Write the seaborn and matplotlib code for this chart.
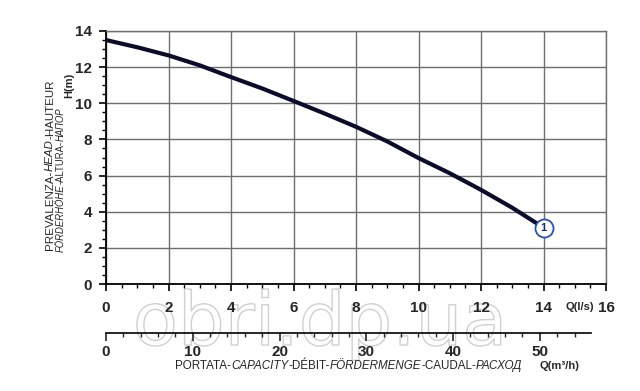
import numpy as np
import pandas as pd
import matplotlib
matplotlib.use("Agg")
import matplotlib.pyplot as plt
import matplotlib.patheffects as pe
from matplotlib.ticker import MultipleLocator
import seaborn as sns

# curve values
flow_ls = [0, 1, 2, 3, 4, 5, 6, 7, 8, 9, 10, 11, 12, 13, 14]
head_m = [13.5, 13.1, 12.65, 12.1, 11.45, 10.82, 10.13, 9.43, 8.7, 7.89, 6.97, 6.13, 5.21, 4.22, 3.12]
x_ticks = [0, 2, 4, 6, 8, 10, 12, 14, 16]
y_ticks = [0, 2, 4, 6, 8, 10, 12, 14]
m3h_ticks = [0, 10, 20, 30, 40, 50]
curve_label = "1"

sns.set_style("white")
plt.rcParams['font.family'] = ['Liberation Sans', 'DejaVu Sans']

df = pd.DataFrame({'Q': flow_ls, 'H': head_m})

fig = plt.figure(figsize=(6.4, 3.91), dpi=100)
ax = fig.add_axes([106/640, 1-284/391, 500/640, 253/391])

# watermark (outline only)
fig.text(0.5, 1-345/391, "obri.dp.ua", fontsize=53, color='none', ha='center', va='baseline',
         fontfamily='DejaVu Sans',
         path_effects=[pe.Stroke(linewidth=1.0, foreground='#d0d0d0')], zorder=-1)

sns.lineplot(data=df, x='Q', y='H', ax=ax, color='#0b0b2b', linewidth=3.0, zorder=3)
ax.plot(flow_ls[-1], head_m[-1], 'o', ms=13, mfc='white', mec='#2850b4', mew=1.3, zorder=4)
ax.text(flow_ls[-1], head_m[-1], curve_label, ha='center', va='center', fontsize=8,
        fontweight='bold', color='#1a2a7a', zorder=5)

ax.set_xlim(0, 16)
ax.set_ylim(0, 14)
ax.set_xticks(x_ticks)
ax.set_yticks(y_ticks)
ax.xaxis.set_minor_locator(MultipleLocator(0.5))
ax.yaxis.set_minor_locator(MultipleLocator(0.5))
ax.grid(True, which='major', color='#6e6e6e', linewidth=1.0)
ax.set_xlabel('')
ax.set_ylabel('')
for s in ['left', 'bottom']:
    ax.spines[s].set_color('black')
    ax.spines[s].set_linewidth(1.3)
for s in ['top', 'right']:
    ax.spines[s].set_color('#6e6e6e')
    ax.spines[s].set_linewidth(1.0)
ax.tick_params(which='major', direction='out', length=5, width=1.2, color='black', labelsize=11)
ax.tick_params(which='minor', direction='out', length=3, width=1.0, color='black')
ax.tick_params(axis='y', which='both', left=True, pad=5)
ax.tick_params(axis='x', which='both', bottom=True, pad=7)
for lab in ax.get_xticklabels() + ax.get_yticklabels():
    lab.set_fontweight('bold')
ax.text(15.15, -1.25, "Q(l/s)", fontsize=8, fontweight='bold', ha='center', va='center')

# second scale in m3/h
ax2 = fig.add_axes([106/640, 1-333/391, 485/640, 0.0001])
ax2.set_xlim(0, 55.9)
ax2.set_xticks(m3h_ticks)
ax2.xaxis.set_minor_locator(MultipleLocator(2))
ax2.set_yticks([])
for s in ['left', 'right', 'top']:
    ax2.spines[s].set_visible(False)
ax2.spines['bottom'].set_linewidth(1.2)
ax2.spines['bottom'].set_color('black')
ax2.patch.set_alpha(0)
ax2.tick_params(axis='x', which='major', direction='out', length=6, width=1.2, labelsize=11, pad=3)
ax2.tick_params(axis='x', which='minor', direction='out', length=3, width=1.0)
ax2.tick_params(axis='x', which='both', bottom=True)
for lab in ax2.get_xticklabels():
    lab.set_fontweight('bold')

fig.canvas.draw()
r = fig.canvas.get_renderer()


def fit_size(pcs, target_px, rot):
    # measure the pieces at 10 pt and scale the size to reach the target length
    total = 0
    for txt, st in pcs:
        tt = fig.text(0, 0, txt, fontsize=10, style=st, rotation=rot)
        bb = tt.get_window_extent(r)
        total += bb.height if rot else bb.width
        tt.remove()
    return 10 * target_px / total


# bottom title with italic pieces
pieces = [("PORTATA-", 'normal'), ("CAPACITY", 'italic'), ("-DÉBIT-", 'normal'),
          ("FÖRDERMENGE", 'italic'), ("-CAUDAL-", 'normal'), ("РАСХОД", 'italic')]
fs = fit_size(pieces, 347, 0)
x0 = 175/640
for txt, st in pieces:
    tt = fig.text(x0, 1-366/391, txt, fontsize=fs, style=st, va='center', ha='left')
    bb = tt.get_window_extent(r)
    x0 += bb.width / fig.bbox.width
fig.text(559/640, 1-366/391, "Q(m³/h)", fontsize=8, fontweight='bold', ha='center', va='center')

# y label: two rotated lines with italic pieces
line1 = [("PREVALENZA-", 'normal'), ("HEAD", 'italic'), ("-HAUTEUR", 'normal')]
line2 = [("FÖRDERHÖHE", 'italic'), ("-ALTURA-", 'normal'), ("НАПОР", 'italic')]
for pcs, xpos, ybot, length in [(line1, 50/640, 250, 170), (line2, 61/640, 252, 145)]:
    fs = fit_size(pcs, length, 90)
    y0 = 1 - ybot/391
    for txt, st in pcs:
        tt = fig.text(xpos, y0, txt, fontsize=fs, style=st, rotation=90, ha='center', va='bottom')
        bb = tt.get_window_extent(r)
        y0 += bb.height / fig.bbox.height
fig.text(69/640, 1-98/391, "H(m)", fontsize=8, fontweight='bold', rotation=90,
         ha='center', va='bottom')

fig.savefig("out.png", dpi=100)
